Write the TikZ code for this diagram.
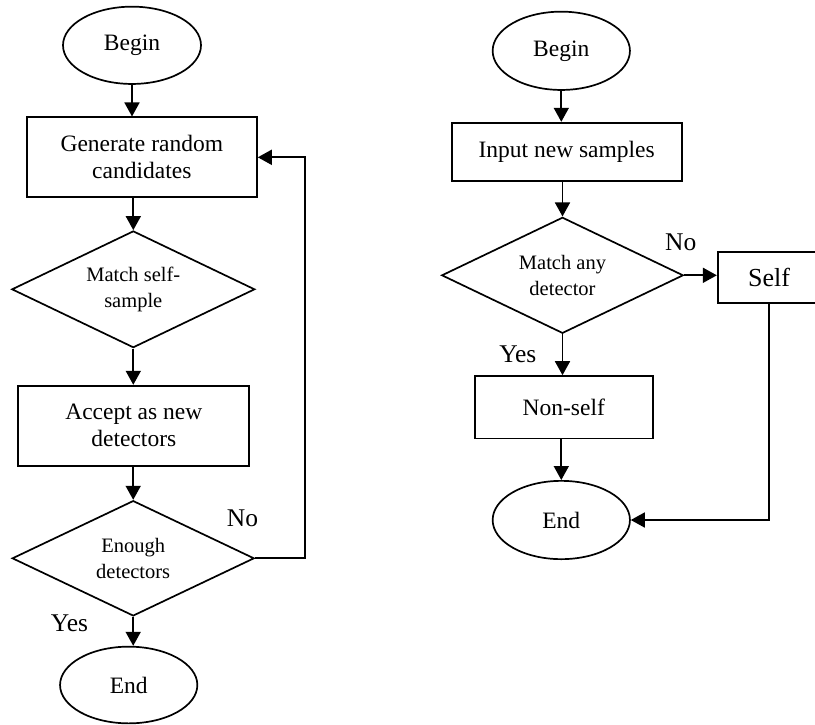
\documentclass[tikz,border=0pt]{standalone}
\usepackage{fontspec}
\setmainfont{Liberation Serif}
\usetikzlibrary{shapes.geometric,arrows.meta}
\tikzset{
  lw/.style={line width=1.7pt},
  term/.style={ellipse, draw, lw, inner sep=0pt, font=\fontsize{23.5}{27}\selectfont},
  proc/.style={rectangle, draw, lw, inner sep=0pt, align=center, font=\fontsize{23.5}{27}\selectfont},
  dec/.style={diamond, draw, lw, aspect=2.1, inner sep=0pt, align=center, font=\fontsize{20.5}{25.5}\selectfont},
  lab/.style={inner sep=0pt, font=\fontsize{25.5}{28}\selectfont},
  arr/.style={lw, -{Triangle[length=14pt,width=15pt]}}
}
\begin{document}
\begin{tikzpicture}[x=1pt,y=-1pt]
\useasboundingbox (0,0) rectangle (815,724);
\clip (0,0) rectangle (815,724);
% left flowchart
\node[term, minimum width=138pt, minimum height=77.3pt] (b1) at (132,45.3) {Begin};
\node[proc, minimum width=230.3pt, minimum height=80pt] (g1) at (141.8,157.3) {Generate random\\candidates};
\node[dec, minimum width=243pt, minimum height=116.7pt] (d1) at (133.3,289.3) {Match self-\\sample};
\node[proc, minimum width=231pt, minimum height=80.3pt] (a1) at (133.8,425.8) {Accept as new\\detectors};
\node[dec, minimum width=242pt, minimum height=115.3pt] (d2) at (133.2,558.3) {Enough\\detectors};
\node[term, minimum width=137.3pt, minimum height=76.7pt] (e1) at (128.7,685) {End};
\node[lab] (no1) at (242.5,518) {No};
\node[lab] (yes1) at (69.5,623.3) {Yes};
\draw[arr] (b1.south) -- (b1.south |- g1.north);
\draw[arr] (d1.north |- g1.south) -- (d1.north);
\draw[arr] (d1.south) -- (d1.south |- a1.north);
\draw[arr] (d2.north |- a1.south) -- (d2.north);
\draw[arr] (d2.south) -- (d2.south |- e1.north);
\coordinate (fb) at (305,558.3);
\draw[arr] (d2.east) -- (fb) |- (g1.east);
% right flowchart
\node[term, minimum width=137.3pt, minimum height=78.3pt] (b2) at (561.3,50.8) {Begin};
\node[proc, minimum width=230pt, minimum height=58.3pt] (i2) at (566.7,151.8) {Input new samples};
\node[dec, minimum width=241.6pt, minimum height=116pt] (d3) at (562.5,275.3) {Match any\\detector};
\node[proc, minimum width=102.6pt, minimum height=51.6pt, font=\fontsize{26}{28}\selectfont] (s2) at (769,277.5) {Self};
\node[proc, minimum width=177.7pt, minimum height=62.3pt] (n2) at (563.8,407.2) {Non-self};
\node[term, minimum width=137.3pt, minimum height=78.3pt] (e2) at (561.3,520) {End};
\node[lab] (no2) at (680.8,242.5) {No};
\node[lab] (yes2) at (517.8,354) {Yes};
\draw[arr] (b2.south) -- (b2.south |- i2.north);
\draw[arr] (d3.north |- i2.south) -- (d3.north);
\draw[arr] (d3.south) -- (d3.south |- n2.north);
\draw[arr] (e2.north |- n2.south) -- (e2.north);
\draw[arr] (d3.east) -- (d3.east -| s2.west);
\draw[arr] (s2.south) |- (e2.east);
\end{tikzpicture}
\end{document}
